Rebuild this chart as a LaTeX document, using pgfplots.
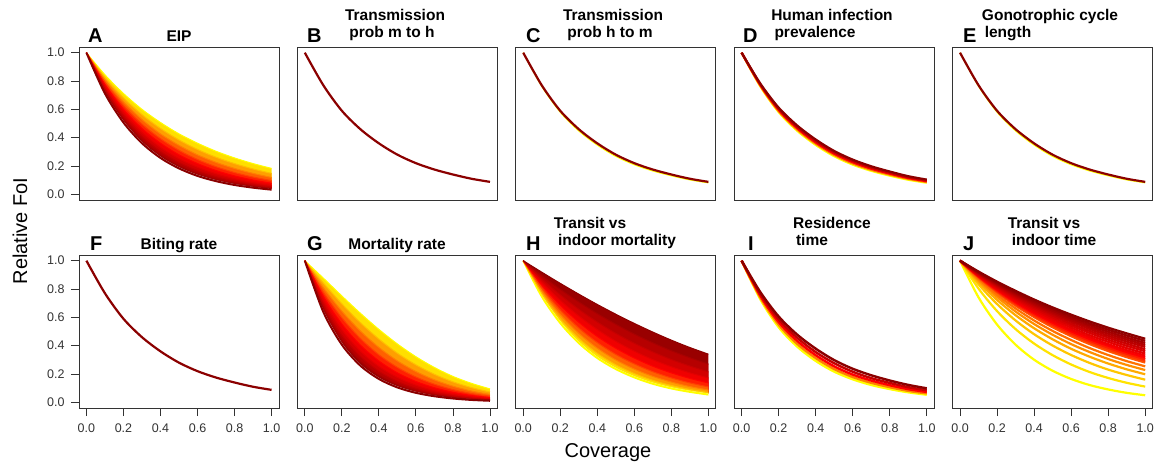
\documentclass[border=0pt]{standalone}
\usepackage{fontspec}
\setmainfont{Liberation Sans}
\usepackage{pgfplots}
\pgfplotsset{compat=1.18}
\usepackage{pgfplotstable}

\definecolor{c0}{RGB}{255,255,0}
\definecolor{c1}{RGB}{255,191,0}
\definecolor{c2}{RGB}{255,128,0}
\definecolor{c3}{RGB}{255,64,0}
\definecolor{c4}{RGB}{255,0,0}
\definecolor{c5}{RGB}{226,0,0}
\definecolor{c6}{RGB}{197,0,0}
\definecolor{c7}{RGB}{168,0,0}
\definecolor{c8}{RGB}{139,0,0}
\colorlet{d0}{c0}\colorlet{d1}{c2}\colorlet{d2}{c4}\colorlet{d3}{c6}\colorlet{d4}{c8}
\colorlet{f0}{c0!50!c1}\colorlet{f1}{c1!50!c2}\colorlet{f2}{c2!50!c3}\colorlet{f3}{c3!50!c4}
\colorlet{f4}{c4!50!c5}\colorlet{f5}{c5!50!c6}\colorlet{f6}{c6!50!c7}\colorlet{f7}{c7!50!c8}
\colorlet{g1}{f0}\colorlet{g2}{f1}\colorlet{g3}{f2}\colorlet{g4}{f3}
\colorlet{g5}{f4}\colorlet{g6}{f5}\colorlet{g7}{f6}\colorlet{g8}{f7}
\definecolor{h0}{RGB}{255,255,0}
\definecolor{h1}{RGB}{255,227,0}
\definecolor{h2}{RGB}{255,198,0}
\definecolor{h3}{RGB}{255,170,0}
\definecolor{h4}{RGB}{255,142,0}
\definecolor{h5}{RGB}{255,113,0}
\definecolor{h6}{RGB}{255,85,0}
\definecolor{h7}{RGB}{255,57,0}
\definecolor{h8}{RGB}{255,28,0}
\definecolor{h9}{RGB}{255,0,0}
\definecolor{h10}{RGB}{242,0,0}
\definecolor{h11}{RGB}{229,0,0}
\definecolor{h12}{RGB}{216,0,0}
\definecolor{h13}{RGB}{203,0,0}
\definecolor{h14}{RGB}{190,0,0}
\definecolor{h15}{RGB}{178,0,0}
\definecolor{h16}{RGB}{165,0,0}
\definecolor{h17}{RGB}{152,0,0}
\definecolor{h18}{RGB}{139,0,0}

% baseline curve (B, C, E, F)
\pgfplotstableread{
x y
0 1
0.1 0.77
0.2 0.59
0.3 0.46
0.4 0.36
0.5 0.28
0.6 0.22
0.7 0.175
0.8 0.14
0.9 0.11
1.0 0.088
}\tabBase

% A: EIP (y0 yellow ... y8 dark red)
\pgfplotstableread{
x y0 y1 y2 y3 y4 y5 y6 y7 y8
0 1 1 1 1 1 1 1 1 1
0.1 0.844 0.826 0.809 0.792 0.775 0.759 0.743 0.727 0.712
0.2 0.712 0.682 0.654 0.627 0.600 0.576 0.552 0.529 0.507
0.3 0.600 0.563 0.529 0.496 0.465 0.437 0.410 0.384 0.361
0.4 0.507 0.465 0.427 0.393 0.361 0.331 0.304 0.279 0.257
0.5 0.427 0.384 0.346 0.311 0.279 0.251 0.226 0.203 0.183
0.6 0.361 0.317 0.279 0.246 0.217 0.191 0.168 0.148 0.130
0.7 0.304 0.262 0.226 0.195 0.168 0.145 0.125 0.107 0.093
0.8 0.257 0.217 0.183 0.154 0.130 0.110 0.093 0.078 0.066
0.9 0.217 0.179 0.148 0.122 0.101 0.083 0.069 0.057 0.047
1.0 0.183 0.148 0.119 0.097 0.078 0.063 0.051 0.041 0.033
}\tabA

% G: Mortality rate
\pgfplotstableread{
x y0 y1 y2 y3 y4 y5 y6 y7 y8
0 1 1 1 1 1 1 1 1 1
0.1 0.877 0.843 0.810 0.778 0.748 0.719 0.690 0.664 0.638
0.2 0.751 0.696 0.644 0.597 0.553 0.512 0.474 0.439 0.407
0.3 0.629 0.563 0.504 0.451 0.404 0.361 0.324 0.290 0.259
0.4 0.515 0.447 0.388 0.336 0.292 0.253 0.220 0.191 0.165
0.5 0.412 0.347 0.293 0.247 0.208 0.176 0.148 0.125 0.105
0.6 0.322 0.265 0.218 0.179 0.147 0.121 0.099 0.082 0.067
0.7 0.246 0.198 0.159 0.128 0.103 0.082 0.066 0.053 0.043
0.8 0.183 0.145 0.114 0.090 0.071 0.056 0.044 0.035 0.027
0.9 0.134 0.104 0.080 0.062 0.048 0.037 0.029 0.022 0.017
1.0 0.095 0.073 0.056 0.043 0.033 0.025 0.019 0.015 0.011
}\tabG

% H: Transit vs indoor mortality
\pgfplotstableread{
x y0 y1 y2 y3 y4 y5 y6 y7 y8
0 1 1 1 1 1 1 1 1 1
0.1 0.748 0.768 0.788 0.808 0.829 0.851 0.873 0.896 0.919
0.2 0.560 0.589 0.620 0.652 0.686 0.721 0.759 0.798 0.840
0.3 0.419 0.452 0.487 0.525 0.566 0.610 0.657 0.709 0.764
0.4 0.313 0.346 0.382 0.422 0.465 0.514 0.567 0.626 0.691
0.5 0.235 0.265 0.299 0.338 0.382 0.431 0.487 0.551 0.622
0.6 0.176 0.203 0.234 0.271 0.313 0.361 0.417 0.482 0.557
0.7 0.131 0.155 0.183 0.216 0.255 0.301 0.356 0.420 0.496
0.8 0.098 0.119 0.143 0.172 0.208 0.251 0.302 0.364 0.439
0.9 0.074 0.091 0.111 0.137 0.169 0.208 0.256 0.315 0.387
1.0 0.055 0.069 0.087 0.109 0.137 0.172 0.215 0.270 0.340
}\tabH

% J: Transit vs indoor time (y0 yellow ... y18 dark red)
\pgfplotstableread{
x y0 y1 y2 y3 y4 y5 y6 y7 y8 y9 y10 y11 y12 y13 y14 y15 y16 y17 y18
0 1 1 1 1 1 1 1 1 1 1 1 1 1 1 1 1 1 1 1
0.1 0.741 0.803 0.833 0.850 0.862 0.872 0.881 0.884 0.888 0.891 0.895 0.899 0.903 0.907 0.910 0.913 0.917 0.920 0.923
0.2 0.549 0.644 0.694 0.723 0.744 0.760 0.776 0.782 0.788 0.795 0.801 0.808 0.815 0.822 0.829 0.834 0.840 0.846 0.852
0.3 0.407 0.517 0.578 0.615 0.641 0.663 0.683 0.691 0.700 0.708 0.717 0.727 0.736 0.745 0.754 0.762 0.770 0.778 0.787
0.4 0.301 0.415 0.481 0.523 0.553 0.578 0.602 0.611 0.621 0.631 0.641 0.653 0.665 0.676 0.687 0.696 0.706 0.716 0.726
0.5 0.223 0.333 0.401 0.445 0.477 0.504 0.530 0.541 0.552 0.563 0.574 0.587 0.600 0.613 0.625 0.636 0.647 0.659 0.670
0.6 0.165 0.267 0.334 0.378 0.411 0.440 0.467 0.478 0.490 0.502 0.514 0.528 0.542 0.555 0.569 0.581 0.593 0.606 0.619
0.7 0.122 0.214 0.278 0.322 0.355 0.383 0.411 0.423 0.435 0.447 0.460 0.474 0.490 0.504 0.518 0.531 0.544 0.557 0.571
0.8 0.091 0.172 0.231 0.274 0.306 0.334 0.362 0.374 0.386 0.399 0.411 0.427 0.442 0.457 0.471 0.485 0.499 0.513 0.527
0.9 0.067 0.138 0.193 0.233 0.264 0.291 0.319 0.331 0.343 0.355 0.368 0.383 0.399 0.414 0.429 0.443 0.457 0.472 0.487
1.0 0.050 0.111 0.160 0.198 0.228 0.254 0.281 0.292 0.304 0.317 0.330 0.345 0.361 0.375 0.391 0.405 0.419 0.434 0.449
}\tabJ

% D: Human infection prevalence
\pgfplotstableread{
x y0 y1 y2 y3 y4
0 1 1 1 1 1
0.1 0.764 0.769 0.774 0.779 0.784
0.2 0.581 0.588 0.596 0.604 0.612
0.3 0.449 0.458 0.467 0.476 0.486
0.4 0.349 0.358 0.367 0.377 0.387
0.5 0.269 0.278 0.287 0.297 0.306
0.6 0.210 0.218 0.227 0.236 0.245
0.7 0.166 0.173 0.181 0.189 0.198
0.8 0.132 0.139 0.146 0.153 0.161
0.9 0.103 0.109 0.115 0.121 0.128
1.0 0.082 0.087 0.092 0.098 0.104
}\tabD

% I: Residence time
\pgfplotstableread{
x y0 y1 y2 y3 y4
0 1 1 1 1 1
0.1 0.731 0.743 0.755 0.767 0.780
0.2 0.531 0.549 0.567 0.586 0.606
0.3 0.394 0.413 0.434 0.456 0.478
0.4 0.293 0.313 0.333 0.355 0.379
0.5 0.217 0.235 0.254 0.276 0.298
0.6 0.163 0.179 0.196 0.216 0.237
0.7 0.123 0.138 0.154 0.171 0.191
0.8 0.094 0.107 0.121 0.137 0.154
0.9 0.071 0.081 0.093 0.107 0.123
1.0 0.054 0.063 0.073 0.085 0.099
}\tabI

\newcommand\titlefont{\bfseries\fontsize{15.5}{15.5}\selectfont}
\newcommand\letterfont{\bfseries\fontsize{20}{20}\selectfont}
\newcommand\labfont{\fontsize{20}{20}\selectfont}

\pgfplotsset{
  panel/.style={scale only axis, width=200pt, height=153pt,
    xmin=-0.04, xmax=1.04, ymin=-0.04, ymax=1.04, axis on top,
    axis line style={black!80, line width=0.9pt},
    xtick=\empty, ytick=\empty, tick align=outside, major tick length=8pt,
    tick style={black!80, line width=0.9pt}, tick pos=left,
    tick label style={font=\fontsize{12.5}{12.5}\selectfont, text=black!80},
    xticklabel style={yshift=-4pt},
    yticklabel style={xshift=-3pt},
    /pgf/number format/fixed, /pgf/number format/fixed zerofill,
    /pgf/number format/precision=1, /pgf/number format/assume math mode=true},
  xt/.style={xtick={0,0.2,0.4,0.6,0.8,1}},
  yt/.style={ytick={0,0.2,0.4,0.6,0.8,1}},
}

% yellow curve on top (A, G): fill under each curve, lowest curve filled white
\newcommand\bandtop[1]{%
  \pgfplotsinvokeforeach{0,...,7}{\addplot[fill=f##1, draw=none, smooth, mark=none] table[x=x,y=y##1]{#1} \closedcycle;}
  \addplot[fill=white, draw=white, line width=2pt, smooth, mark=none] table[x=x,y=y8]{#1} \closedcycle;
  \pgfplotsinvokeforeach{0,...,7}{\addplot[c##1, line width=1pt, smooth, mark=none] table[x=x,y=y##1]{#1};}
  \addplot[c8, line width=2pt, smooth, mark=none] table[x=x,y=y8]{#1};
}
% yellow curve at the bottom (H)
\newcommand\bandbottom[1]{%
  \pgfplotsinvokeforeach{8,7,6,5,4,3,2,1}{\addplot[fill=g##1, draw=none, smooth, mark=none] table[x=x,y=y##1]{#1} \closedcycle;}
  \addplot[fill=white, draw=white, line width=2pt, smooth, mark=none] table[x=x,y=y0]{#1} \closedcycle;
  \addplot[c0, line width=2pt, smooth, mark=none] table[x=x,y=y0]{#1};
  \pgfplotsinvokeforeach{1,...,8}{\addplot[c##1, line width=1pt, smooth, mark=none] table[x=x,y=y##1]{#1};}
}

\begin{document}
\begin{tikzpicture}
\useasboundingbox (0,0) rectangle (1158pt,-463pt);

% ---------- row 1 ----------
\begin{axis}[panel, yt, at={(79pt,-47pt)}, anchor=north west]
  \bandtop{\tabA}
\end{axis}
\begin{axis}[panel, at={(297.4pt,-47pt)}, anchor=north west]
  \addplot[c8, line width=2.2pt, smooth, mark=none] table[x=x,y=y]{\tabBase};
\end{axis}
\begin{axis}[panel, at={(515.8pt,-47pt)}, anchor=north west]
  \addplot[c0, line width=1.4pt, smooth, mark=none] table[x=x,y=y0]{\tabD};
  \addplot[c8, line width=2.2pt, smooth, mark=none] table[x=x,y=y]{\tabBase};
\end{axis}
\begin{axis}[panel, at={(734.2pt,-47pt)}, anchor=north west]
  \pgfplotsinvokeforeach{0,...,4}{\addplot[d#1, line width=2.2pt, smooth, mark=none] table[x=x,y=y#1]{\tabD};}
\end{axis}
\begin{axis}[panel, at={(952.6pt,-47pt)}, anchor=north west]
  \addplot[c0, line width=1.4pt, smooth, mark=none] table[x=x,y=y0]{\tabD};
  \addplot[c8, line width=2.2pt, smooth, mark=none] table[x=x,y=y]{\tabBase};
\end{axis}

% ---------- row 2 ----------
\begin{axis}[panel, xt, yt, at={(79pt,-255pt)}, anchor=north west]
  \addplot[c8, line width=2.2pt, smooth, mark=none] table[x=x,y=y]{\tabBase};
\end{axis}
\begin{axis}[panel, xt, at={(297.4pt,-255pt)}, anchor=north west]
  \bandtop{\tabG}
\end{axis}
\begin{axis}[panel, xt, at={(515.8pt,-255pt)}, anchor=north west]
  \bandbottom{\tabH}
\end{axis}
\begin{axis}[panel, xt, at={(734.2pt,-255pt)}, anchor=north west]
  \pgfplotsinvokeforeach{0,...,4}{\addplot[d#1, line width=2.4pt, smooth, mark=none] table[x=x,y=y#1]{\tabI};}
\end{axis}
\begin{axis}[panel, xt, at={(952.6pt,-255pt)}, anchor=north west]
  \pgfplotsinvokeforeach{0,...,18}{\addplot[h#1, line width=2.2pt, smooth, mark=none] table[x=x,y=y#1]{\tabJ};}
\end{axis}

% ---------- titles ----------
\begin{scope}[every node/.style={inner sep=0pt}]
\node[anchor=base west, font=\letterfont] at (88pt,-42pt) {A};
\node[anchor=base, font=\titlefont] at (179pt,-41pt) {EIP};
\node[anchor=base west, font=\letterfont] at (307pt,-42pt) {B};
\node[anchor=base, font=\titlefont] at (395pt,-20pt) {Transmission};
\node[anchor=base, font=\titlefont] at (392pt,-37pt) {prob m to h};
\node[anchor=base west, font=\letterfont] at (526pt,-42pt) {C};
\node[anchor=base, font=\titlefont] at (613pt,-20pt) {Transmission};
\node[anchor=base, font=\titlefont] at (610pt,-37pt) {prob h to m};
\node[anchor=base west, font=\letterfont] at (743pt,-42pt) {D};
\node[anchor=base, font=\titlefont] at (832pt,-20pt) {Human infection};
\node[anchor=base, font=\titlefont] at (815pt,-37pt) {prevalence};
\node[anchor=base west, font=\letterfont] at (963pt,-42pt) {E};
\node[anchor=base, font=\titlefont] at (1050pt,-20pt) {Gonotrophic cycle};
\node[anchor=base, font=\titlefont] at (1008pt,-37pt) {length};

\node[anchor=base west, font=\letterfont] at (90pt,-250pt) {F};
\node[anchor=base, font=\titlefont] at (179pt,-249pt) {Biting rate};
\node[anchor=base west, font=\letterfont] at (307pt,-250pt) {G};
\node[anchor=base, font=\titlefont] at (397pt,-249pt) {Mortality rate};
\node[anchor=base west, font=\letterfont] at (526pt,-250pt) {H};
\node[anchor=base, font=\titlefont] at (590pt,-228pt) {Transit vs};
\node[anchor=base, font=\titlefont] at (617pt,-245pt) {indoor mortality};
\node[anchor=base west, font=\letterfont] at (748pt,-250pt) {I};
\node[anchor=base, font=\titlefont] at (832pt,-228pt) {Residence};
\node[anchor=base, font=\titlefont] at (812pt,-245pt) {time};
\node[anchor=base west, font=\letterfont] at (963pt,-250pt) {J};
\node[anchor=base, font=\titlefont] at (1044pt,-228pt) {Transit vs};
\node[anchor=base, font=\titlefont] at (1054pt,-245pt) {indoor time};

\node[rotate=90, anchor=center, font=\labfont] at (20pt,-231pt) {Relative FoI};
\node[anchor=base, font=\labfont] at (608pt,-457pt) {Coverage};
\end{scope}
\end{tikzpicture}
\end{document}
